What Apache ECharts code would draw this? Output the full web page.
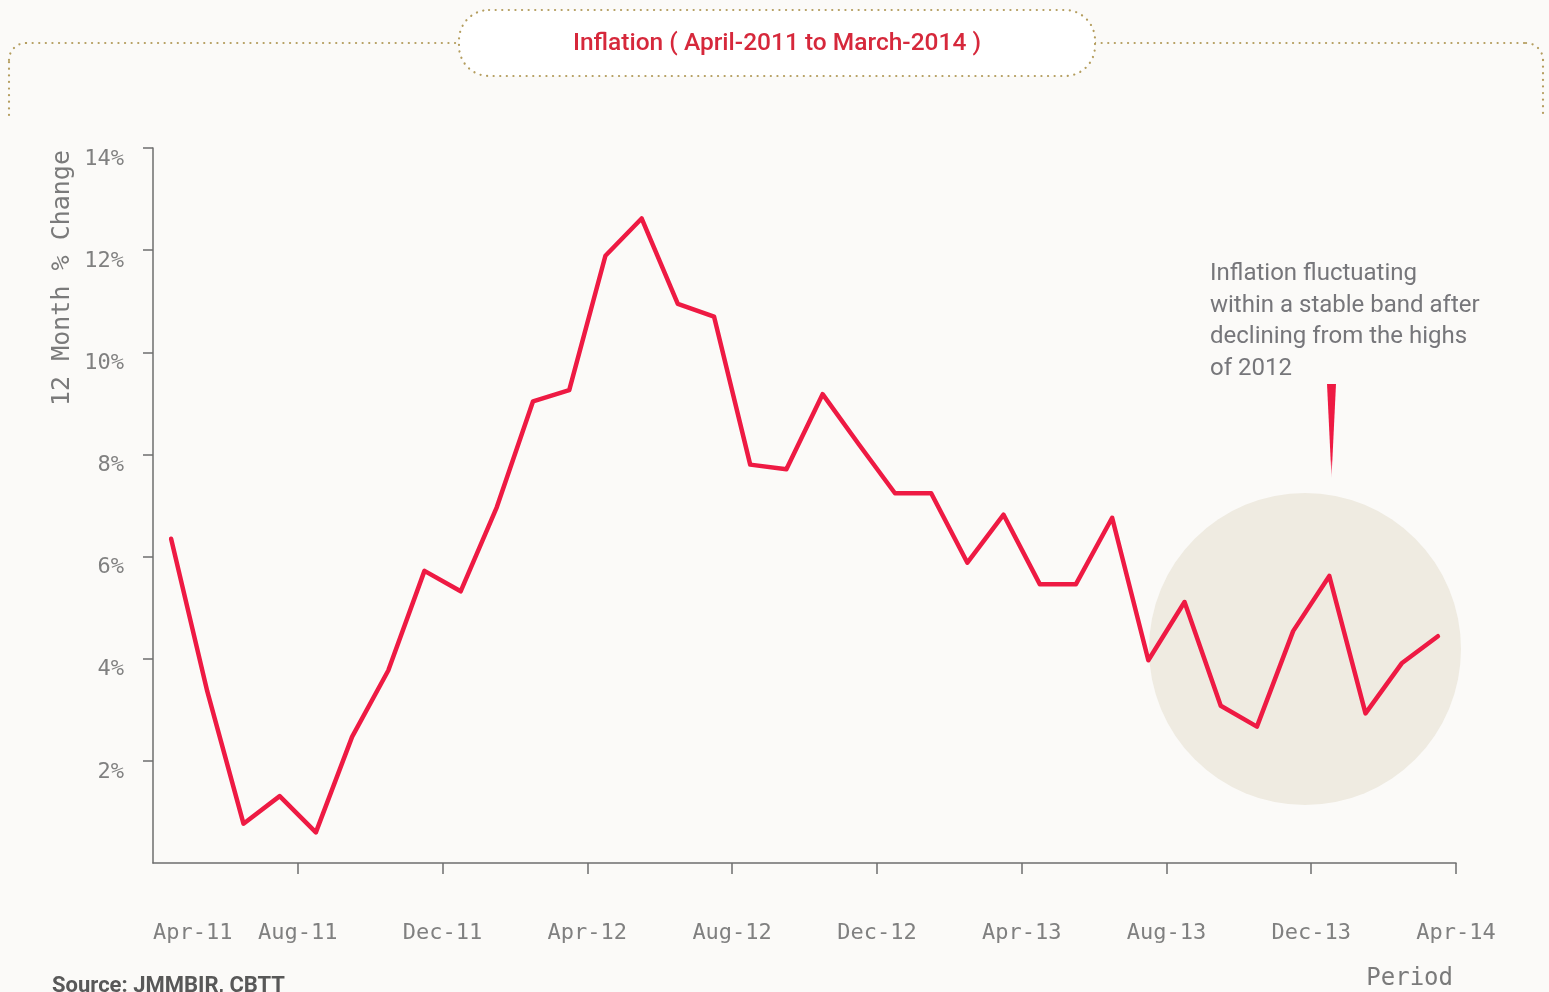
<!DOCTYPE html>
<html>
<head>
<meta charset="utf-8">
<script src="https://cdn.jsdelivr.net/npm/echarts@6/dist/echarts.min.js"></script>
<style>
html,body{margin:0;padding:0;background:#fbfaf8;}
#chart{width:1549px;height:992px;}
</style>
</head>
<body>
<div id="chart"></div>
<script>
// Months (Apr-2011 .. Mar-2014)
var months = ['Apr-11','May-11','Jun-11','Jul-11','Aug-11','Sep-11','Oct-11','Nov-11','Dec-11',
  'Jan-12','Feb-12','Mar-12','Apr-12','May-12','Jun-12','Jul-12','Aug-12','Sep-12','Oct-12','Nov-12','Dec-12',
  'Jan-13','Feb-13','Mar-13','Apr-13','May-13','Jun-13','Jul-13','Aug-13','Sep-13','Oct-13','Nov-13','Dec-13',
  'Jan-14','Feb-14','Mar-14'];
// 12-month % change
var inflation = [6.35,3.36,0.77,1.31,0.60,2.47,3.77,5.72,5.32,
  6.97,9.04,9.26,11.89,12.62,10.95,10.70,7.80,7.71,9.18,8.20,7.24,
  7.24,5.88,6.82,5.46,5.46,6.76,3.97,5.11,3.08,2.67,4.54,5.62,
  2.93,3.91,4.44];
// X-axis tick labels every 4 months
var xTickLabels = ['Apr-11','Aug-11','Dec-11','Apr-12','Aug-12','Dec-12','Apr-13','Aug-13','Dec-13','Apr-14'];
// Y-axis ticks
var yTicks = [2,4,6,8,10,12,14];

var chart = echarts.init(document.getElementById('chart'), null, {renderer:'canvas'});

var seriesData = inflation.map(function(v,i){ return [i + 0.5, v]; });
var xTickValues = xTickLabels.map(function(_,i){ return i*4; });

var gold = '#b49d5e';
var grayText = '#808080';
var monoFont = '"DejaVu Sans Mono", monospace';
var dotStyle = {fill:null, stroke:gold, lineWidth:2.2, lineDash:[0.1,6.5], lineCap:'round'};

var option = {
  backgroundColor: '#fbfaf8',
  animation: false,
  grid: {left:153, right:93, top:148, bottom:129, containLabel:false},
  xAxis: {
    type:'value', min:0, max:36, interval:4,
    axisLine:{show:true, lineStyle:{color:'#6e6e6e', width:1.5}},
    axisTick:{show:true, length:11, customValues: xTickValues.slice(1), lineStyle:{color:'#6e6e6e', width:1.5}},
    splitLine:{show:false},
    axisLabel:{
      customValues: xTickValues,
      formatter:function(v){ return xTickLabels[Math.round(v/4)] || ''; },
      color:grayText, fontFamily:monoFont, fontSize:22, margin:59,
      alignMinLabel:'left'
    }
  },
  yAxis: {
    type:'value', min:0, max:14, interval:2,
    axisLine:{show:true, lineStyle:{color:'#6e6e6e', width:1.5}},
    axisTick:{show:true, length:10, inside:false, customValues: yTicks, lineStyle:{color:'#6e6e6e', width:1.5}},
    splitLine:{show:false},
    axisLabel:{
      customValues: yTicks,
      formatter:'{value}%', color:grayText, fontFamily:monoFont, fontSize:22, margin:29,
      verticalAlign:'top'
    }
  },
  graphic: [
    // highlight circle
    {type:'circle', z:0, shape:{cx:1305, cy:649, r:156}, style:{fill:'#efebe1'}, silent:true},
    // frame lines
    {type:'line', z:1, shape:{x1:9, y1:115, x2:9, y2:60}, style:dotStyle},
    {type:'arc', z:1, shape:{cx:26, cy:60, r:17, startAngle:Math.PI, endAngle:Math.PI*1.5, clockwise:true}, style:dotStyle},
    {type:'line', z:1, shape:{x1:26, y1:43, x2:459, y2:43}, style:dotStyle},
    {type:'line', z:1, shape:{x1:1095, y1:43, x2:1526, y2:43}, style:dotStyle},
    {type:'arc', z:1, shape:{cx:1526, cy:60, r:17, startAngle:Math.PI*1.5, endAngle:Math.PI*2, clockwise:true}, style:dotStyle},
    {type:'line', z:1, shape:{x1:1543, y1:60, x2:1543, y2:115}, style:dotStyle},
    {type:'rect', z:1, shape:{x:459, y:10, width:636, height:66, r:30},
      style:{fill:'#ffffff', stroke:gold, lineWidth:2.2, lineDash:[0.1,6.5], lineCap:'round'}},
    {type:'text', z:2, x:777, y:44, style:{text:'Inflation ( April-2011 to March-2014 )', fill:'#d6283b',
      fontFamily:'Roboto', fontSize:24.5, fontWeight:500, align:'center', verticalAlign:'middle'}},
    // y axis name
    {type:'text', z:2, x:62, y:278, rotation:Math.PI/2, style:{text:'12 Month % Change', fill:'#7a7a7a',
      fontFamily:monoFont, fontSize:25, align:'center', verticalAlign:'middle'}},
    // x axis name
    {type:'text', z:2, x:1453, y:979, style:{text:'Period', fill:'#7a7a7a',
      fontFamily:monoFont, fontSize:24, align:'right', verticalAlign:'middle'}},
    // source
    {type:'text', z:2, x:52, y:975, style:{text:'Source: JMMBIR, CBTT', fill:'#585858',
      fontFamily:'Roboto', fontSize:22, fontWeight:'bold', align:'left', verticalAlign:'top'}},
    // annotation
    {type:'text', z:2, x:1210, y:258, style:{text:'Inflation fluctuating\nwithin a stable band after\ndeclining from the highs\nof 2012',
      fill:'#76767a', fontFamily:'Roboto', fontSize:24, lineHeight:31.7, align:'left', verticalAlign:'top'}},
    // spike pointer
    {type:'polygon', z:2, shape:{points:[[1327,384],[1336,384],[1331.5,478]]},
      style:{fill:new echarts.graphic.LinearGradient(0,0,0,1,[{offset:0,color:'#ee1a43'},{offset:0.8,color:'#ee1a43'},{offset:1,color:'rgba(238,26,67,0.2)'}])}}
  ],
  series: [{
    type:'line', z:5,
    data: seriesData,
    showSymbol:false, symbol:'none',
    lineStyle:{color:'#ee1a43', width:4.5, join:'round', cap:'round'},
    itemStyle:{color:'#ee1a43'}
  }]
};
chart.setOption(option);
</script>
</body>
</html>
